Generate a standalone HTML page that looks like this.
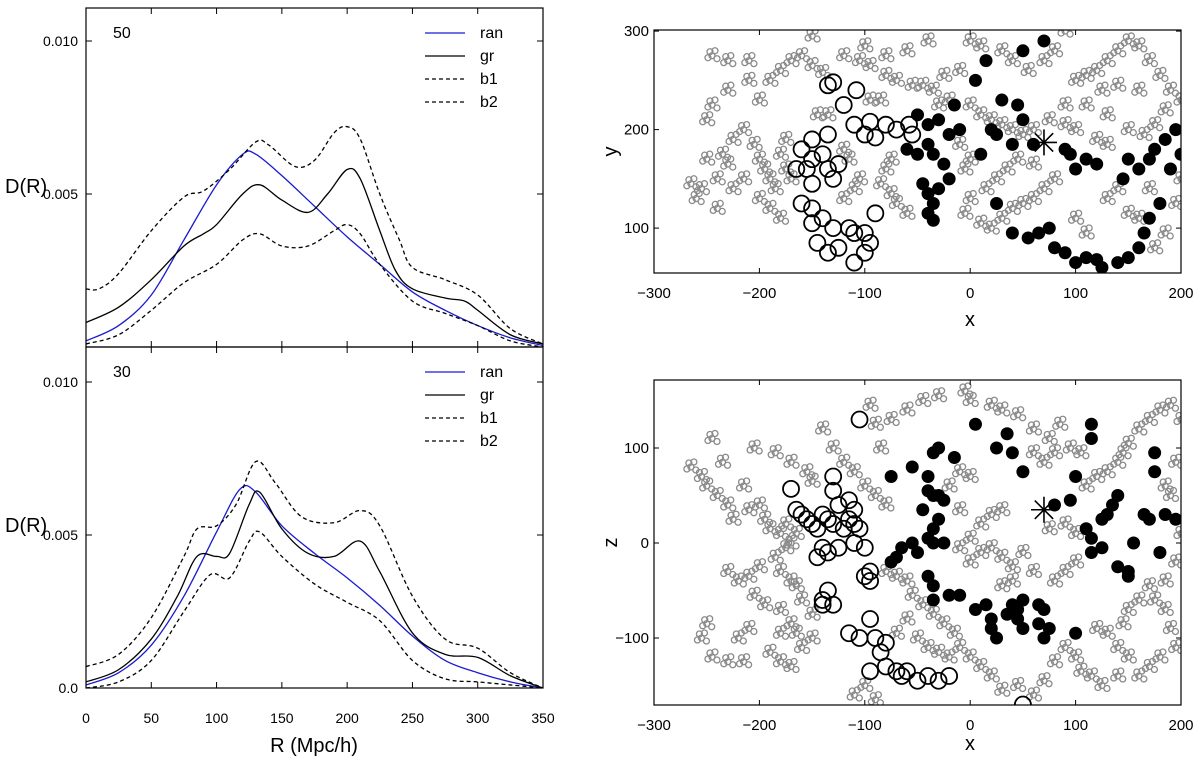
<!DOCTYPE html>
<html><head><meta charset="utf-8">
<style>
html,body{margin:0;padding:0;background:#fff;}
svg{display:block;font-family:"Liberation Sans","DejaVu Sans",sans-serif;}
</style></head>
<body>
<svg id="fig" width="1200" height="765" viewBox="0 0 1200 765" xmlns="http://www.w3.org/2000/svg"></svg>
<script>
// ---------- Left panels data (D(R) in units of 0.001) ----------
const topRanR=[0,25,50,75,100,120,130,150,175,200,225,250,275,300,325,350];
const topRanV=[0.2,0.7,1.7,3.5,5.3,6.3,6.3,5.6,4.6,3.6,2.7,1.8,1.2,0.7,0.3,0.05];
const topGrR=[0,25,50,75,90,100,120,133,150,170,185,200,210,225,237,250,275,290,300,325,350];
const topGrV=[0.8,1.3,2.2,3.3,3.7,4.0,5.0,5.3,4.8,4.4,5.0,5.8,5.5,3.8,2.5,1.9,1.6,1.5,1.2,0.4,0.1];
const topB1R=[0,10,25,50,75,90,110,130,140,160,175,190,200,210,225,240,250,275,300,325,350];
const topB1V=[1.9,1.9,2.4,3.8,4.9,5.1,5.8,6.7,6.6,5.9,6.1,7.0,7.2,6.8,5.0,3.5,2.6,2.2,1.7,0.6,0.1];
const topB2R=[0,25,50,75,100,120,133,150,170,190,200,210,225,250,275,300,325,350];
const topB2V=[0.1,0.4,1.2,2.1,2.7,3.5,3.7,3.3,3.3,3.8,4.0,3.7,2.7,1.5,1.1,0.7,0.2,0];
const botRanR=[0,25,50,75,100,118,130,150,175,200,225,250,275,300,325,350];
const botRanV=[0.1,0.5,1.4,3.0,5.1,6.5,6.4,5.3,4.4,3.6,2.7,1.7,0.9,0.5,0.2,0];
const botGrR=[0,25,50,70,85,100,110,125,133,150,170,190,210,225,250,275,300,325,350];
const botGrV=[0.2,0.6,1.6,3.0,4.3,4.3,4.4,6.0,6.4,5.2,4.4,4.3,4.8,3.8,1.8,1.1,1.0,0.4,0];
const botB1R=[0,25,50,75,85,100,115,130,145,165,190,210,225,250,275,300,325,350];
const botB1V=[0.7,1.1,2.3,4.3,5.2,5.3,6.0,7.4,6.7,5.6,5.4,5.8,5.3,3.0,1.6,1.3,0.5,0];
const botB2R=[0,25,50,75,95,110,125,133,150,175,200,225,250,275,300,325,350];
const botB2V=[0,0.2,0.9,2.5,3.7,3.6,4.8,5.1,4.3,3.4,2.8,2.2,0.9,0.3,0.2,0.1,0];
const rTicks=[0,50,100,150,200,250,300,350];

// ---------- Right panels data ----------
const xyOpenX=[-130,-108,-120,-110,-95,-80,-70,-58,-55,-90,-100,-150,-135,-160,-150,-140,-135,-125,-165,-155,-150,-130,-160,-150,-140,-150,-130,-145,-135,-125,-115,-110,-100,-95,-100,-90,-110,-135];
const xyOpenY=[248,240,225,205,208,205,200,205,195,192,195,190,195,180,170,175,160,165,160,160,145,150,125,120,110,105,100,85,75,80,100,95,95,85,75,115,65,245];
const xyFillX=[-50,-40,-30,-60,-50,-40,-35,-25,-20,-15,-10,5,15,30,45,50,70,10,20,25,40,50,60,-45,-40,-30,-35,-40,-35,-20,25,40,55,65,75,80,90,100,110,120,125,140,150,160,165,170,180,145,160,170,175,185,195,200,190,120,110,100,95,90,150];
const xyFillY=[215,205,210,180,175,185,175,165,195,225,200,250,270,230,225,280,290,175,200,195,185,210,185,145,135,140,125,115,108,150,125,95,90,95,100,80,75,65,70,68,60,65,70,80,95,110,125,150,160,170,180,190,200,175,160,165,170,160,175,180,170];
const xyGrayX=[-265,-260,-250,-240,-230,-225,-215,-205,-200,-195,-190,-185,-180,-175,-175,-170,-200,-190,-180,-170,-160,-150,-140,-200,-190,-180,-210,-230,-245,-250,-245,-230,-210,-120,-105,-95,-80,-70,-55,-45,-35,-25,-10,-20,-30,0,10,20,30,40,50,60,75,90,110,130,150,165,-75,-80,-85,-75,-70,-60,-105,-110,-120,-120,-115,-80,-60,-40,0,10,30,40,55,45,35,25,15,0,-5,10,20,30,40,50,60,70,80,60,100,110,120,130,140,150,160,170,180,190,200,185,175,160,140,125,70,80,90,100,110,130,140,150,160,170,-240,-255,-145,-135,-95,-85,-100,-150,-215,-225,-235,0,-5,-10,120,130,90,100,195,200,185,175];
const xyGrayY=[145,130,170,150,165,190,200,185,170,160,150,140,175,190,160,150,230,250,260,270,275,265,258,130,120,110,250,240,225,210,275,270,270,275,270,265,255,250,245,245,240,255,260,230,225,225,215,210,205,200,195,200,210,225,225,215,200,195,170,160,145,135,125,115,150,140,130,180,170,275,280,290,290,285,280,270,260,170,160,150,140,130,115,105,100,110,120,125,130,140,150,165,250,255,260,270,280,290,285,270,255,240,230,220,205,240,245,240,270,280,300,110,95,130,140,115,110,140,120,140,215,215,230,230,285,295,150,140,175,170,160,185,190,185,205,200,125,150,95,80];
const xzOpenX=[-170,-165,-160,-155,-150,-145,-140,-135,-130,-125,-120,-115,-110,-105,-130,-130,-115,-110,-140,-135,-145,-125,-110,-100,-95,-100,-95,-135,-140,-140,-130,-115,-105,-95,-90,-80,-85,-80,-70,-60,-65,-50,-40,-30,-20,-95,-105,50];
const xzOpenZ=[57,35,30,25,20,15,30,25,20,40,15,25,20,15,70,55,45,35,-5,-10,-15,-5,0,-5,-30,-35,-40,-50,-60,-65,-65,-95,-100,-80,-100,-105,-115,-130,-135,-135,-140,-145,-140,-145,-140,-135,130,-170];
const xzFillX=[-75,-55,-40,-35,-30,-15,-40,-35,-30,-25,-45,-30,-35,-25,-35,-40,-55,-50,-65,-70,-75,5,35,25,40,50,-40,-35,-35,-20,-10,5,15,20,25,20,35,40,45,50,45,50,65,70,65,70,75,100,80,95,100,110,115,125,115,125,130,135,140,150,140,150,165,170,175,175,185,195,180,115,115,155];
const xzFillZ=[70,80,70,95,100,90,55,50,50,45,35,25,15,0,0,5,0,-10,-5,-15,-20,125,115,100,95,75,-35,-45,-60,-55,-55,-70,-65,-80,-100,-90,-75,-65,-70,-60,-80,-90,-65,-70,-85,-100,-90,-95,40,45,70,15,5,-5,-10,25,30,40,50,-30,-25,-35,30,25,75,95,30,25,-10,110,125,0];
const xzGrayX=[-265,-255,-250,-240,-230,-225,-210,-200,-195,-190,-180,-175,-185,-200,-210,-220,-230,-205,-195,-180,-170,-165,-180,-210,-220,-250,-255,-245,-230,-215,-190,-180,-170,-160,-150,-150,-160,-165,-170,-180,-175,-165,-170,-245,-235,-215,-205,-185,-170,-155,-150,-140,-130,-120,-110,-100,-90,-80,-85,-95,-90,-75,-60,-45,-30,-5,0,20,30,45,60,75,85,60,70,80,95,105,110,120,130,140,145,150,160,170,180,190,200,195,185,190,200,195,185,170,175,185,190,195,180,170,160,140,125,115,105,100,90,80,70,60,45,30,20,10,0,-10,-15,-25,-35,-45,-55,-60,-70,-80,-60,-70,-50,-40,-30,-20,-100,-110,-90,0,10,20,30,40,50,60,80,90,100,100,90,75,10,20,30,0,-10,40,30,120,130,140,150,160,150,145,-10,-20,-10,0];
const xzGrayZ=[80,70,60,50,40,25,35,40,25,15,10,-5,-15,-25,-35,-40,-30,-55,-65,-70,-85,-95,-95,-90,-100,-85,-100,-120,-125,-125,-115,-125,-130,-110,-100,-75,-60,-45,-40,-30,20,10,0,110,85,60,100,95,85,75,65,120,100,85,75,60,50,40,100,145,125,130,140,150,155,160,150,145,140,135,120,110,125,95,85,95,100,95,60,70,75,85,95,105,120,130,140,145,130,85,60,50,10,-20,-40,-45,-60,-70,-90,-110,-120,-130,-140,-140,-150,-140,-135,-120,-110,-125,-145,-160,-150,-155,-140,-130,-120,-110,-95,-85,-75,-65,-55,-40,-35,-30,-80,-95,-100,-110,-115,-120,-150,-160,-165,-20,-10,-5,-15,-25,-10,-30,-40,-30,-20,10,20,15,20,30,35,5,-5,-40,-45,-90,-95,-110,-120,-60,-70,-85,35,60,75,70];
const xTicks=[-300,-200,-100,0,100,200];
const yTicks=[100,200,300];
const zTicks=[-100,0,100];

const svg=document.getElementById('fig');
const NS='http://www.w3.org/2000/svg';
function el(tag,attrs,parent){const e=document.createElementNS(NS,tag);for(const k in attrs)e.setAttribute(k,attrs[k]);(parent||svg).appendChild(e);return e;}
function txt(s,x,y,size,anchor,parent){const t=el('text',{x:x,y:y,'font-size':size,'text-anchor':anchor||'start',fill:'#000'},parent);t.textContent=s;return t;}
function smooth(pts){let d='M'+pts[0][0]+','+pts[0][1];for(let i=0;i<pts.length-1;i++){const p0=pts[i-1]||pts[i],p1=pts[i],p2=pts[i+1],p3=pts[i+2]||p2;const c1x=p1[0]+(p2[0]-p0[0])/6,c1y=p1[1]+(p2[1]-p0[1])/6,c2x=p2[0]-(p3[0]-p1[0])/6,c2y=p2[1]-(p3[1]-p1[1])/6;d+=' C'+c1x+','+c1y+' '+c2x+','+c2y+' '+p2[0]+','+p2[1];}return d;}

// ---------- Left panels ----------
const LX0=86,LX1=543;
const rx=r=>LX0+(LX1-LX0)*r/350;
function leftPanel(name,top,bot,label,series,yLabels){
  const g=el('g',{});
  
  
  const yv=v=>bot-v*30.6;
  const clip=el('clipPath',{id:'clip-'+name},g);el('rect',{x:LX0,y:top,width:LX1-LX0,height:bot-top},clip);
  series.forEach(s=>{
    const p=el('path',{d:smooth(s.r.map((r,i)=>[rx(r),yv(s.v[i])])),fill:'none',stroke:s.c,'stroke-width':1.3,'stroke-dasharray':s.dash||'none','clip-path':'url(#clip-'+name+')'},g);
    
    
  });
  const fr=el('rect',{x:LX0,y:top,width:LX1-LX0,height:bot-top,fill:'none',stroke:'#000','stroke-width':1.2},g);
  
  
  rTicks.forEach(r=>{el('line',{x1:rx(r),x2:rx(r),y1:bot,y2:bot-6,stroke:'#000'},g);el('line',{x1:rx(r),x2:rx(r),y1:top,y2:top+6,stroke:'#000'},g);});
  yLabels.forEach(t=>{const y=yv(t[0]);el('line',{x1:LX0,x2:LX0+6,y1:y,y2:y,stroke:'#000'},g);el('line',{x1:LX1,x2:LX1-6,y1:y,y2:y,stroke:'#000'},g);const tl=txt(t[1],78,y+5,14,'end',g);});
  const pl=txt(label,113,top+30,16,'start',g);
  
  
  const yt=txt('D(R)',5,top+185,20,'start',g);
  
  
  const leg=el('g',{},g);
  
  
  series.forEach((s,i)=>{const y=top+25+i*23;el('line',{x1:425,x2:465,y1:y,y2:y,stroke:s.c,'stroke-width':1.3,'stroke-dasharray':s.dash||'none'},leg);const t=txt(s.n,480,y+5,16,'start',leg);});
}
leftPanel('top-left-panel',8,347,'50',[
 {n:'ran',r:topRanR,v:topRanV,c:'#1a1ad0'},{n:'gr',r:topGrR,v:topGrV,c:'#000'},
 {n:'b1',r:topB1R,v:topB1V,c:'#000',dash:'4,3'},{n:'b2',r:topB2R,v:topB2V,c:'#000',dash:'4,3'}],[[10,'0.010'],[5,'0.005']]);
leftPanel('bottom-left-panel',347,688,'30',[
 {n:'ran',r:botRanR,v:botRanV,c:'#1a1ad0'},{n:'gr',r:botGrR,v:botGrV,c:'#000'},
 {n:'b1',r:botB1R,v:botB1V,c:'#000',dash:'4,3'},{n:'b2',r:botB2R,v:botB2V,c:'#000',dash:'4,3'}],[[10,'0.010'],[5,'0.005'],[0,'0.0']]);
rTicks.forEach(r=>{const t=txt(String(r),rx(r),723,14,'middle');});
const rt=txt('R (Mpc/h)',314,752,20,'middle');



// ---------- Right panels ----------
const RX0=654,RX1=1181;
const sx=x=>RX0+(x+300)*(RX1-RX0)/500;
// gray galaxies are drawn as small clumps of rings (marker style)
const clumpDx=[0,5,-4,3,-2];
const clumpDy=[0,3,2,-5,-4];
function scatterPanel(name,top,bot,yAt,yScale,ticks,ylab,gx,gy,ox,oy,fx,fy,star,xlabY){
  const g=el('g',{});
  
  
  const sy=v=>yAt-v*yScale;
  const cid='clip-'+name;
  const clip=el('clipPath',{id:cid},g);el('rect',{x:RX0,y:top,width:RX1-RX0,height:bot-top},clip);
  const pts=el('g',{'clip-path':'url(#'+cid+')'},g);
  gx.forEach((x,i)=>{
    const gg=el('g',{},pts);
    
    
    clumpDx.forEach((d,k)=>{el('circle',{cx:sx(x)+d,cy:sy(gy[i])+clumpDy[k],r:3,fill:'none',stroke:'#8a8a8a','stroke-width':1.3},gg);});
  });
  ox.forEach((x,i)=>{const c=el('circle',{cx:sx(x),cy:sy(oy[i]),r:8,fill:'none',stroke:'#000','stroke-width':1.8},pts);});
  fx.forEach((x,i)=>{const c=el('circle',{cx:sx(x),cy:sy(fy[i]),r:6.5,fill:'#000'},pts);});
  const st=el('g',{},pts);
  
  
  const cx=sx(star[0]),cy=sy(star[1]);
  [0,45,90,135].forEach(a=>{const r=13,dx=r*Math.cos(a*Math.PI/180),dy=r*Math.sin(a*Math.PI/180);el('line',{x1:cx-dx,y1:cy-dy,x2:cx+dx,y2:cy+dy,stroke:'#000','stroke-width':1.6},st);});
  const fr=el('rect',{x:RX0,y:top,width:RX1-RX0,height:bot-top,fill:'none',stroke:'#000','stroke-width':1.2},g);
  
  
  xTicks.forEach(x=>{el('line',{x1:sx(x),x2:sx(x),y1:bot,y2:bot-5,stroke:'#000'},g);el('line',{x1:sx(x),x2:sx(x),y1:top,y2:top+5,stroke:'#000'},g);const t=txt(x<0?'\u2212'+(-x):String(x),sx(x),bot+25,15,'middle',g);});
  ticks.forEach(v=>{const y=sy(v);el('line',{x1:RX0,x2:RX0+5,y1:y,y2:y,stroke:'#000'},g);el('line',{x1:RX1,x2:RX1-5,y1:y,y2:y,stroke:'#000'},g);const t=txt(v<0?'\u2212'+(-v):String(v),RX0-5,y+5,15,'end',g);});
  const xl=txt('x',970,xlabY,20,'middle',g);
  
  
  const yl=txt(ylab,0,0,20,'middle',g);
  yl.setAttribute('transform','translate(617,'+((top+bot)/2)+') rotate(-90)');
  
  
}
scatterPanel('xy-scatter-panel',30,273,326.6,0.985,yTicks,'y',xyGrayX,xyGrayY,xyOpenX,xyOpenY,xyFillX,xyFillY,[70,187],326);
scatterPanel('xz-scatter-panel',380,705,543,0.95,zTicks,'z',xzGrayX,xzGrayZ,xzOpenX,xzOpenZ,xzFillX,xzFillZ,[70,35],750);
</script>
</body></html>
